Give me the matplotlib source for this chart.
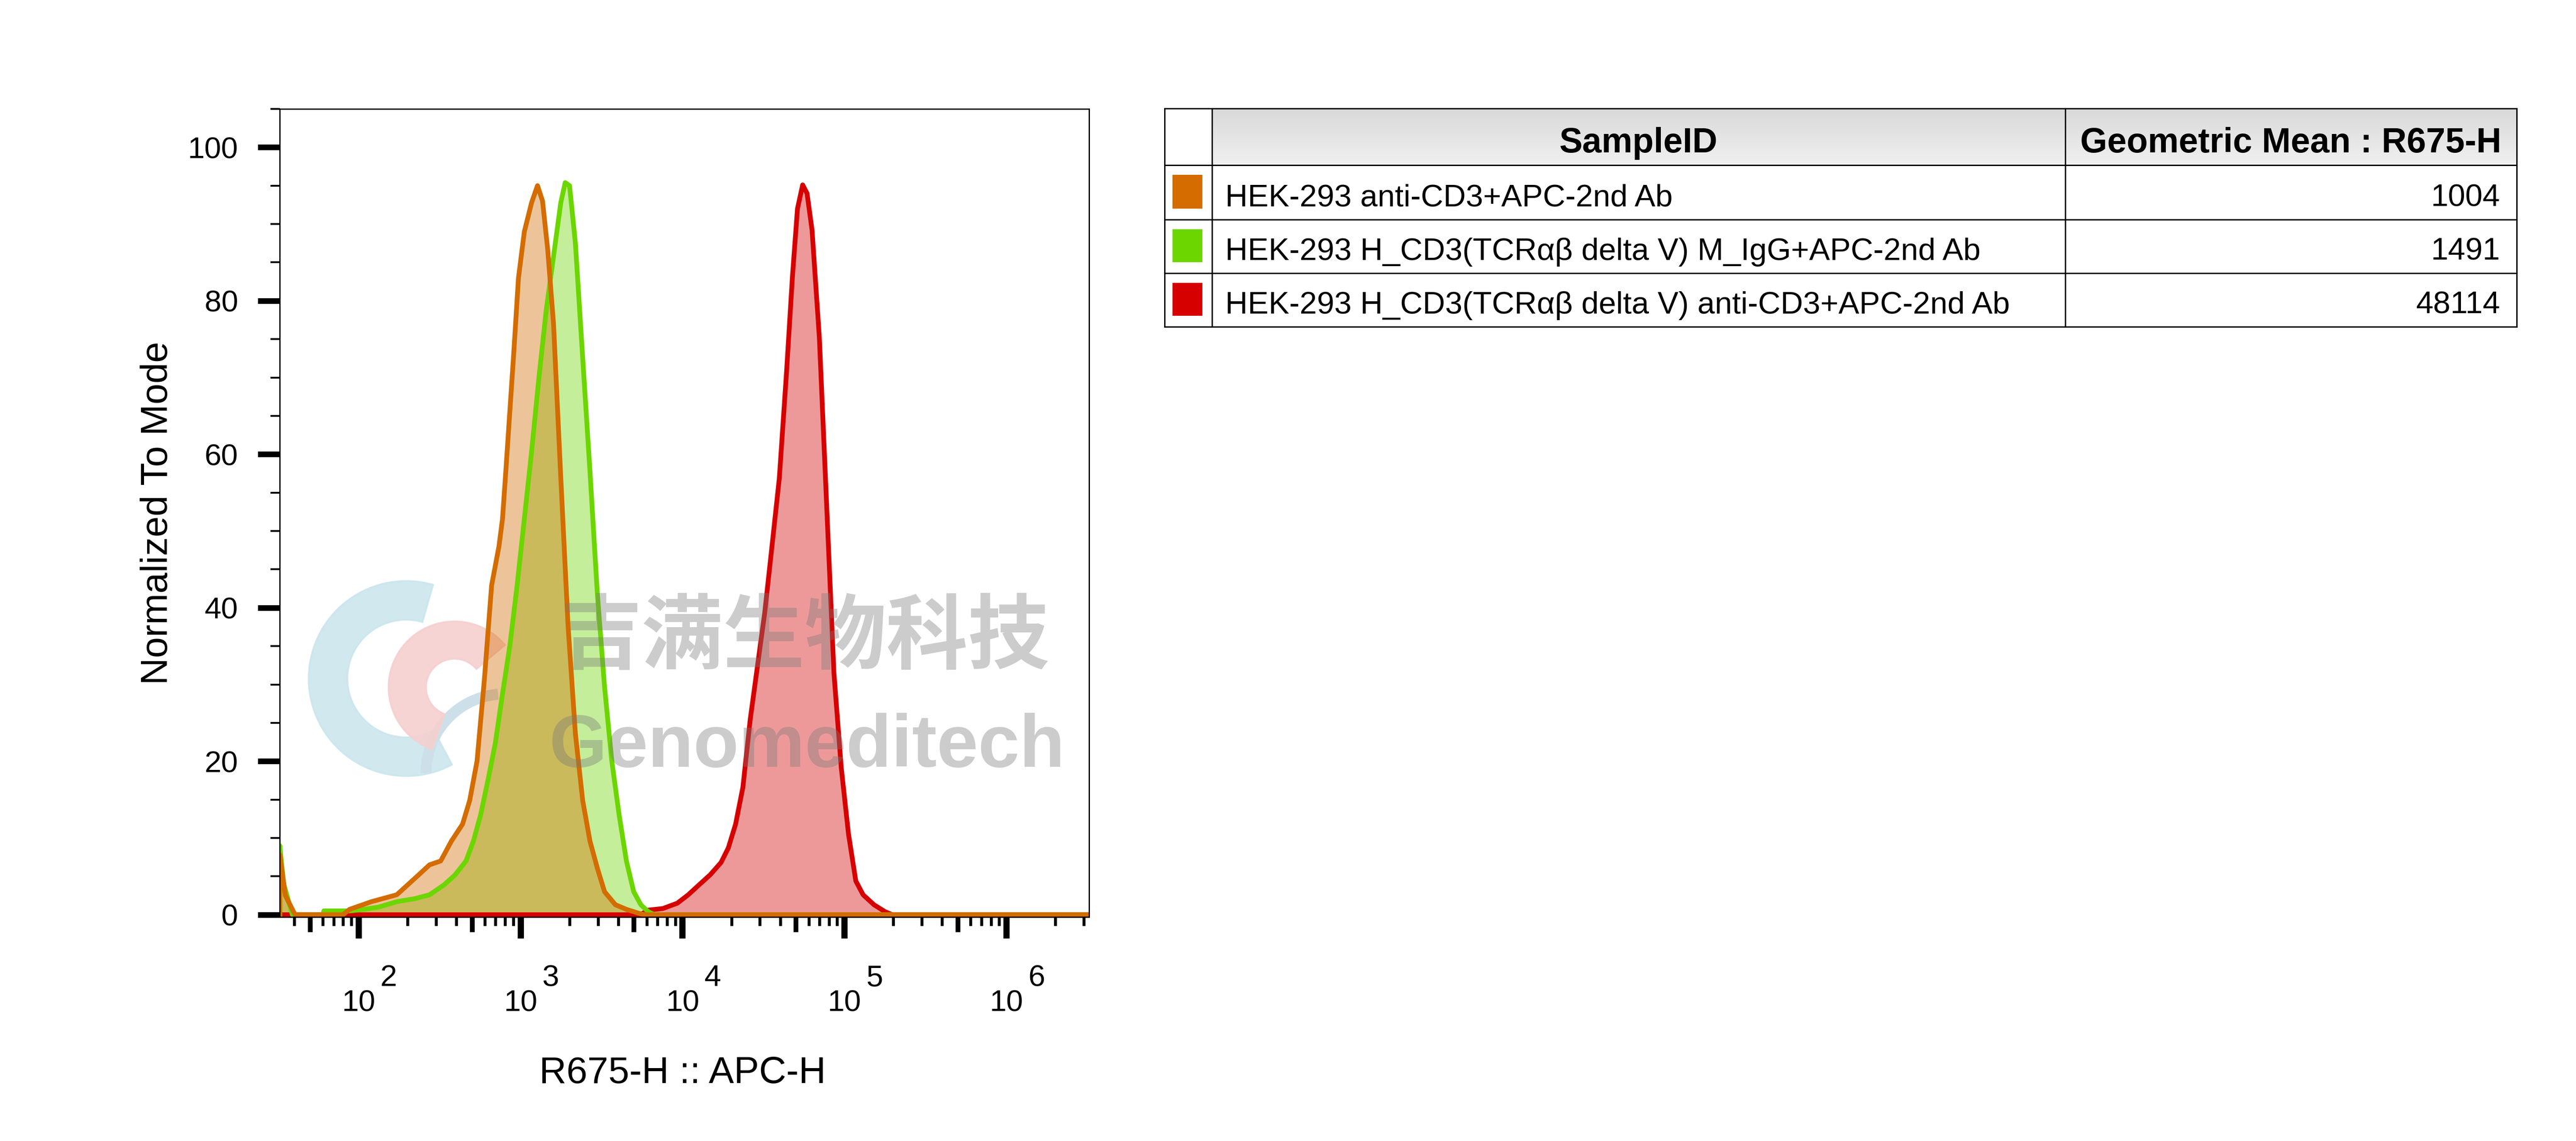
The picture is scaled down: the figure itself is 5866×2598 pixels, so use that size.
import numpy as np
import matplotlib
matplotlib.use("Agg")
import matplotlib.pyplot as plt
from matplotlib.patches import Rectangle, Wedge, Arc
from matplotlib.colors import LinearSegmentedColormap
from matplotlib.ticker import FixedLocator, NullFormatter, NullLocator

plt.rcParams['font.family'] = ['Liberation Sans', 'DejaVu Sans']

orange_x = [32.6, 32.6, 35.3, 40.5, 80, 88, 120, 172, 235, 274, 321, 374, 438, 485, 538,
            597, 662, 735, 773, 815, 903, 970, 1054, 1169, 1271, 1365, 1469, 1596, 1770,
            1963, 2178, 2415, 2679, 2972, 3296, 3846, 4498, 5521, 6000, 3.3e6]
orange_y = [0, 7.8, 2.5, 0, 0, 0.7, 1.7, 2.6, 5.2, 6.5, 7.0, 9.6, 11.8, 14.9, 20,
            30.6, 42.9, 48, 51.6, 58.6, 72.6, 83, 89, 92.8, 95, 93, 86.7, 77, 56.9,
            37.6, 23.6, 14.9, 9.6, 6.1, 3.0, 1.3, 0.7, 0.1, 0, 0]

green_x = [32.6, 32.6, 34.5, 39, 60, 61, 88, 108, 133, 172, 223, 274, 337, 394, 460,
           511, 566, 628, 697, 773, 857, 951, 1054, 1169, 1297, 1439, 1596, 1770, 1884,
           2004, 2178, 2415, 2679, 2972, 3296, 3656, 4055, 4498, 4989, 5521, 6124, 6700, 3.3e6]
green_y = [0, 9.0, 4, 0, 0, 0.5, 0.5, 0.7, 1.0, 1.7, 2.1, 2.6, 3.9, 5.2, 7.0,
           9.6, 13, 17.5, 22.3, 28.8, 35, 42.9, 51.6, 60.4, 70, 78.8, 85.8, 92.8, 95.4,
           95, 87.5, 72.6, 57.8, 42, 29.7, 20, 13, 7, 3, 1.3, 0.4, 0, 0]

red_x = [32.6, 5500, 6124, 7534, 9268, 10839, 12647, 14791, 17258, 19143, 21232, 23550,
         26122, 28973, 32137, 35645, 39537, 43853, 47643, 51168, 55081, 58614, 62951,
         69823, 77446, 85901, 95280, 105682, 117220, 130017, 151705, 177419, 196789, 3.3e6]
red_y = [0, 0, 0.6, 0.8, 1.5, 2.6, 3.9, 5.2, 6.8, 8.7, 11.8, 16.6,
         25.4, 32.4, 39.4, 48.1, 56.9, 70.9, 83.2, 92, 95.1, 94, 89.2,
         75.2, 53.4, 31.5, 19.2, 10.5, 4.4, 2.6, 1.3, 0.4, 0, 0]

sample_ids = ["HEK-293 anti-CD3+APC-2nd Ab",
              "HEK-293 H_CD3(TCR\u03b1\u03b2 delta V) M_IgG+APC-2nd Ab",
              "HEK-293 H_CD3(TCR\u03b1\u03b2 delta V) anti-CD3+APC-2nd Ab"]
geo_means = ["1004", "1491", "48114"]
sample_colors = ["#d46c00", "#6cd600", "#d60000"]

decades = [2, 3, 4, 5, 6]
y_major = [0, 20, 40, 60, 80, 100]

# ---- figure ----
W, H, DPI = 5866, 2598, 300
fig = plt.figure(figsize=(W / DPI, H / DPI), dpi=DPI)

def fx(px):
    return px / W

def fy(py):
    return 1 - py / H

ax = fig.add_axes([fx(637), fy(2088), fx(2480) - fx(637), fy(248) - fy(2088)])
ax.set_zorder(1)
ax.patch.set_alpha(0)
ax.set_xscale('log')
ax.set_xlim(32.58, 3.228e6)
ax.set_ylim(-0.3, 105)

for xs, ys, c in [(red_x, red_y, sample_colors[2]),
                  (green_x, green_y, sample_colors[1]),
                  (orange_x, orange_y, sample_colors[0])]:
    ax.fill_between(xs, ys, 0, color=c, alpha=0.4, lw=0)
    ax.plot(xs, ys, color=c, lw=2.6, solid_joinstyle='round')

for s in ax.spines.values():
    s.set_linewidth(0.7)

# y axis
ax.yaxis.set_major_locator(FixedLocator(y_major))
ax.yaxis.set_minor_locator(FixedLocator([v for v in range(5, 106, 5) if v % 20]))
ax.tick_params(axis='y', which='major', length=12, width=3.1, pad=10.8, labelsize=16.5)
ax.tick_params(axis='y', which='minor', length=5, width=1.0)

# x axis: decades (long), 5x (medium, on twin), the rest (short)
lo, hi = ax.get_xlim()
minor_x = [m * 10.0 ** k for k in range(1, 7) for m in (2, 3, 4, 6, 7, 8, 9)
           if lo <= m * 10.0 ** k <= hi]
mid_x = [5 * 10.0 ** k for k in range(1, 7) if lo <= 5 * 10.0 ** k <= hi]
ax.xaxis.set_major_locator(FixedLocator([10.0 ** k for k in decades]))
ax.xaxis.set_minor_locator(FixedLocator(minor_x))
ax.xaxis.set_major_formatter(NullFormatter())
ax.xaxis.set_minor_formatter(NullFormatter())
ax.tick_params(axis='x', which='major', length=11.8, width=3.4)
ax.tick_params(axis='x', which='minor', length=4.8, width=1.6)

ax2 = ax.twiny()
ax2.set_xscale('log')
ax2.set_xlim(lo, hi)
ax2.xaxis.set_ticks_position('bottom')
ax2.xaxis.set_major_locator(FixedLocator(mid_x))
ax2.xaxis.set_minor_locator(NullLocator())
ax2.xaxis.set_major_formatter(NullFormatter())
ax2.tick_params(axis='x', which='major', length=8.2, width=2.6)
for s in ax2.spines.values():
    s.set_visible(False)

xt = ax.get_xaxis_transform()
for k in decades:
    ax.annotate('10', xy=(10.0 ** k, 0), xycoords=xt, xytext=(0, -51.4),
                textcoords='offset points', ha='center', va='baseline', fontsize=16.5)
    ax.annotate(str(k), xy=(10.0 ** k, 0), xycoords=xt, xytext=(11.8, -37.7),
                textcoords='offset points', ha='left', va='baseline', fontsize=16.5)

fig.text(fx(1554), fy(2466), "R675-H :: APC-H", ha='center', va='baseline', fontsize=20.6)
fig.text(fx(381), fy(1168), "Normalized To Mode", rotation=90, rotation_mode='anchor',
         ha='center', va='baseline', fontsize=20.5)

# ---- watermark ----
def pin(px, py):
    return (px / DPI, (H - py) / DPI)

logo = [
    Wedge(pin(925, 1545), 222 / DPI, 74, 298, width=88 / DPI, color='#cce6ee', alpha=0.9),
    Arc(pin(1150, 1760), 2 * 180 / DPI, 2 * 180 / DPI, theta1=95, theta2=180,
        color='#cde0ea', lw=6),
    Wedge(pin(1035, 1565), 150 / DPI, 40, 250, width=85 / DPI, color='#f5d0cf', alpha=0.9),
]
for p in logo:
    p.set_transform(fig.dpi_scale_trans)
    p.set_zorder(0.5)
    fig.add_artist(p)

fig.text(fx(1833), fy(1453), "吉满生物科技", ha='center', va='center', fontsize=44.6,
         family=['Noto Sans CJK SC', 'DejaVu Sans'], fontweight='bold',
         color='#7a7a7a', alpha=0.38, zorder=5)
fig.text(fx(1837), fy(1746), "Genomeditech", ha='center', va='baseline', fontsize=40.6,
         fontweight='bold', color='#7a7a7a', alpha=0.38, zorder=5)

# ---- statistics table ----
tx0, tx1, ty0, ty1 = 2652, 5731, 247, 744
col_sw, col_id = 2760, 4703
row_edges = [247, 376, 500, 622, 744]

tab = fig.add_axes([fx(tx0), fy(ty1), fx(tx1) - fx(tx0), fy(ty0) - fy(ty1)])
tab.set_xlim(tx0, tx1)
tab.set_ylim(ty1, ty0)
tab.axis('off')

grad = LinearSegmentedColormap.from_list('hdr', ['#d9d9d9', '#f0f0f0'])
tab.imshow(np.linspace(0, 1, 64).reshape(-1, 1), cmap=grad, aspect='auto',
           extent=(col_sw, tx1, row_edges[1], row_edges[0]), origin='upper', zorder=0)

lw = 0.75
for yv in row_edges:
    tab.plot([tx0, tx1], [yv, yv], color='black', lw=lw, clip_on=False, zorder=3)
for xv in [tx0, col_sw, col_id, tx1]:
    tab.plot([xv, xv], [ty0, ty1], color='black', lw=lw, clip_on=False, zorder=3)

hdr_base = (row_edges[0] + row_edges[1]) / 2 + 36
tab.text((col_sw + col_id) / 2, hdr_base, "SampleID", ha='center', va='baseline',
         fontsize=19, fontweight='bold')
tab.text((col_id + tx1) / 2, hdr_base, "Geometric Mean : R675-H", ha='center',
         va='baseline', fontsize=19, fontweight='bold')

for i, (name, val, c) in enumerate(zip(sample_ids, geo_means, sample_colors)):
    top, bot = row_edges[i + 1], row_edges[i + 2]
    tab.add_patch(Rectangle((2670, top + 22), 68, bot - top - 47, color=c, lw=0, zorder=2))
    base = (top + bot) / 2 + 31
    tab.text(2790, base, name, ha='left', va='baseline', fontsize=17)
    tab.text(5693, base, val, ha='right', va='baseline', fontsize=17)

fig.savefig('out.png', dpi=DPI)
